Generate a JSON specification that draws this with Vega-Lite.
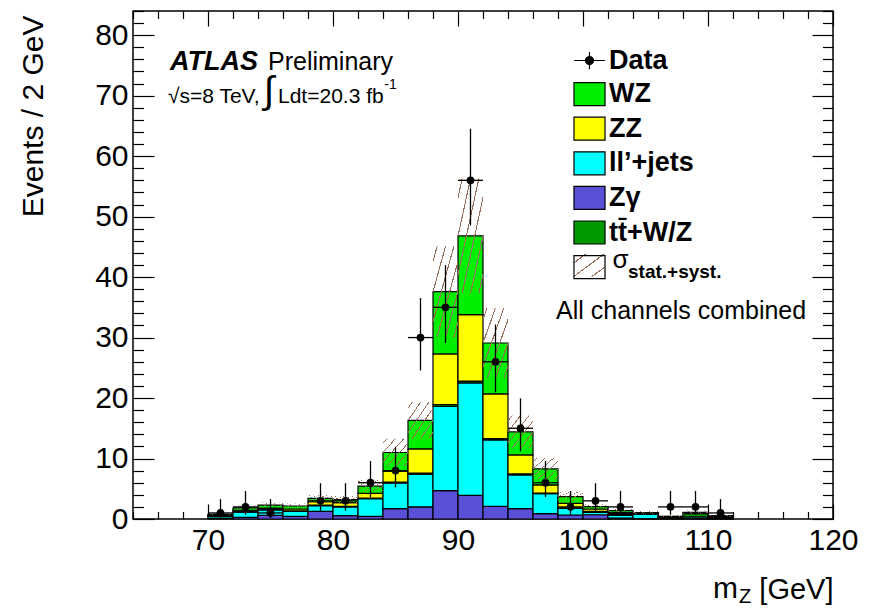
{
  "$schema": "https://vega.github.io/schema/vega-lite/v6.json",
  "width": 700,
  "height": 508,
  "autosize": {"type": "none"},
  "padding": {"left": 133, "top": 11, "right": 40, "bottom": 89},
  "background": "white",
  "config": {"view": {"stroke": "black", "strokeWidth": 1.5}, "font": "Liberation Sans"},
  "datasets": {
    "stack": [
      {"lo":70,"hi":72,"p":"Zγ","n":0.15},{"lo":70,"hi":72,"p":"ll’+jets","n":0.30},{"lo":70,"hi":72,"p":"tt̄+W/Z","n":0.10},{"lo":70,"hi":72,"p":"ZZ","n":0.10},{"lo":70,"hi":72,"p":"WZ","n":0.15},
      {"lo":72,"hi":74,"p":"Zγ","n":0.27},{"lo":72,"hi":74,"p":"ll’+jets","n":0.88},{"lo":72,"hi":74,"p":"tt̄+W/Z","n":0.15},{"lo":72,"hi":74,"p":"ZZ","n":0.15},{"lo":72,"hi":74,"p":"WZ","n":0.40},
      {"lo":74,"hi":76,"p":"Zγ","n":0.60},{"lo":74,"hi":76,"p":"ll’+jets","n":0.90},{"lo":74,"hi":76,"p":"tt̄+W/Z","n":0.10},{"lo":74,"hi":76,"p":"ZZ","n":0.20},{"lo":74,"hi":76,"p":"WZ","n":0.50},
      {"lo":76,"hi":78,"p":"Zγ","n":0.43},{"lo":76,"hi":78,"p":"ll’+jets","n":0.83},{"lo":76,"hi":78,"p":"tt̄+W/Z","n":0.10},{"lo":76,"hi":78,"p":"ZZ","n":0.29},{"lo":76,"hi":78,"p":"WZ","n":0.50},
      {"lo":78,"hi":80,"p":"Zγ","n":1.25},{"lo":78,"hi":80,"p":"ll’+jets","n":0.95},{"lo":78,"hi":80,"p":"tt̄+W/Z","n":0.10},{"lo":78,"hi":80,"p":"ZZ","n":0.55},{"lo":78,"hi":80,"p":"WZ","n":0.55},
      {"lo":80,"hi":82,"p":"Zγ","n":0.55},{"lo":80,"hi":82,"p":"ll’+jets","n":1.45},{"lo":80,"hi":82,"p":"tt̄+W/Z","n":0.10},{"lo":80,"hi":82,"p":"ZZ","n":0.60},{"lo":80,"hi":82,"p":"WZ","n":0.50},
      {"lo":82,"hi":84,"p":"Zγ","n":0.43},{"lo":82,"hi":84,"p":"ll’+jets","n":2.92},{"lo":82,"hi":84,"p":"tt̄+W/Z","n":0.10},{"lo":82,"hi":84,"p":"ZZ","n":0.80},{"lo":82,"hi":84,"p":"WZ","n":1.20},
      {"lo":84,"hi":86,"p":"Zγ","n":1.70},{"lo":84,"hi":86,"p":"ll’+jets","n":4.25},{"lo":84,"hi":86,"p":"tt̄+W/Z","n":0.15},{"lo":84,"hi":86,"p":"ZZ","n":1.80},{"lo":84,"hi":86,"p":"WZ","n":3.10},
      {"lo":86,"hi":88,"p":"Zγ","n":2.00},{"lo":86,"hi":88,"p":"ll’+jets","n":5.40},{"lo":86,"hi":88,"p":"tt̄+W/Z","n":0.20},{"lo":86,"hi":88,"p":"ZZ","n":4.00},{"lo":86,"hi":88,"p":"WZ","n":4.70},
      {"lo":88,"hi":90,"p":"Zγ","n":4.70},{"lo":88,"hi":90,"p":"ll’+jets","n":13.9},{"lo":88,"hi":90,"p":"tt̄+W/Z","n":0.30},{"lo":88,"hi":90,"p":"ZZ","n":8.40},{"lo":88,"hi":90,"p":"WZ","n":10.3},
      {"lo":90,"hi":92,"p":"Zγ","n":3.90},{"lo":90,"hi":92,"p":"ll’+jets","n":18.6},{"lo":90,"hi":92,"p":"tt̄+W/Z","n":0.30},{"lo":90,"hi":92,"p":"ZZ","n":11.0},{"lo":90,"hi":92,"p":"WZ","n":13.0},
      {"lo":92,"hi":94,"p":"Zγ","n":2.10},{"lo":92,"hi":94,"p":"ll’+jets","n":11.0},{"lo":92,"hi":94,"p":"tt̄+W/Z","n":0.20},{"lo":92,"hi":94,"p":"ZZ","n":7.40},{"lo":92,"hi":94,"p":"WZ","n":8.40},
      {"lo":94,"hi":96,"p":"Zγ","n":1.70},{"lo":94,"hi":96,"p":"ll’+jets","n":5.60},{"lo":94,"hi":96,"p":"tt̄+W/Z","n":0.15},{"lo":94,"hi":96,"p":"ZZ","n":3.15},{"lo":94,"hi":96,"p":"WZ","n":3.80},
      {"lo":96,"hi":98,"p":"Zγ","n":0.90},{"lo":96,"hi":98,"p":"ll’+jets","n":3.30},{"lo":96,"hi":98,"p":"tt̄+W/Z","n":0.10},{"lo":96,"hi":98,"p":"ZZ","n":1.35},{"lo":96,"hi":98,"p":"WZ","n":2.65},
      {"lo":98,"hi":100,"p":"Zγ","n":0.66},{"lo":98,"hi":100,"p":"ll’+jets","n":1.09},{"lo":98,"hi":100,"p":"tt̄+W/Z","n":0.10},{"lo":98,"hi":100,"p":"ZZ","n":0.75},{"lo":98,"hi":100,"p":"WZ","n":1.10},
      {"lo":100,"hi":102,"p":"Zγ","n":0.70},{"lo":100,"hi":102,"p":"ll’+jets","n":0.40},{"lo":100,"hi":102,"p":"tt̄+W/Z","n":0.15},{"lo":100,"hi":102,"p":"ZZ","n":0.40},{"lo":100,"hi":102,"p":"WZ","n":0.40},
      {"lo":102,"hi":104,"p":"Zγ","n":0.15},{"lo":102,"hi":104,"p":"ll’+jets","n":0.50},{"lo":102,"hi":104,"p":"tt̄+W/Z","n":0.20},{"lo":102,"hi":104,"p":"ZZ","n":0.20},{"lo":102,"hi":104,"p":"WZ","n":0.35},
      {"lo":104,"hi":106,"p":"Zγ","n":0.05},{"lo":104,"hi":106,"p":"ll’+jets","n":0.75},{"lo":104,"hi":106,"p":"tt̄+W/Z","n":0.10},{"lo":104,"hi":106,"p":"ZZ","n":0.05},{"lo":104,"hi":106,"p":"WZ","n":0.10},
      {"lo":106,"hi":108,"p":"Zγ","n":0.05},{"lo":106,"hi":108,"p":"ll’+jets","n":0.10},{"lo":106,"hi":108,"p":"tt̄+W/Z","n":0.15},{"lo":106,"hi":108,"p":"ZZ","n":0.10},{"lo":106,"hi":108,"p":"WZ","n":0.05},
      {"lo":108,"hi":110,"p":"Zγ","n":0.05},{"lo":108,"hi":110,"p":"ll’+jets","n":0.30},{"lo":108,"hi":110,"p":"tt̄+W/Z","n":0.55},{"lo":108,"hi":110,"p":"ZZ","n":0.10},{"lo":108,"hi":110,"p":"WZ","n":0.10},
      {"lo":110,"hi":112,"p":"Zγ","n":0.02},{"lo":110,"hi":112,"p":"ll’+jets","n":0.20},{"lo":110,"hi":112,"p":"tt̄+W/Z","n":0.20},{"lo":110,"hi":112,"p":"ZZ","n":0.08},{"lo":110,"hi":112,"p":"WZ","n":0.05}
    ],
    "band": [
      {"lo":70,"hi":72,"elo":0.6,"ehi":1.0},{"lo":72,"hi":74,"elo":1.5,"ehi":2.2},{"lo":74,"hi":76,"elo":1.9,"ehi":2.7},
      {"lo":76,"hi":78,"elo":1.75,"ehi":2.55},{"lo":78,"hi":80,"elo":2.8,"ehi":4.0},{"lo":80,"hi":82,"elo":2.6,"ehi":3.8},
      {"lo":82,"hi":84,"elo":4.45,"ehi":6.45},{"lo":84,"hi":86,"elo":8.7,"ehi":13.3},{"lo":86,"hi":88,"elo":13.3,"ehi":19.3},
      {"lo":88,"hi":90,"elo":30.1,"ehi":45.1},{"lo":90,"hi":92,"elo":37.3,"ehi":56.3},{"lo":92,"hi":94,"elo":23.3,"ehi":34.9},
      {"lo":94,"hi":96,"elo":11.7,"ehi":17.1},{"lo":96,"hi":98,"elo":6.5,"ehi":10.1},{"lo":98,"hi":100,"elo":2.9,"ehi":4.5},
      {"lo":100,"hi":102,"elo":1.65,"ehi":2.45},{"lo":102,"hi":104,"elo":1.1,"ehi":1.7},{"lo":104,"hi":106,"elo":0.75,"ehi":1.35},
      {"lo":106,"hi":108,"elo":0.3,"ehi":0.6},{"lo":108,"hi":110,"elo":0.8,"ehi":1.4},{"lo":110,"hi":112,"elo":0.4,"ehi":0.7}
    ],
    "obs": [
      {"c":71,"bl":70,"bh":72,"n":1,"lo":0.17,"hi":3.30},
      {"c":73,"bl":72,"bh":74,"n":2,"lo":0.71,"hi":4.63},
      {"c":75,"bl":74,"bh":76,"n":1,"lo":0.17,"hi":3.30},
      {"c":79,"bl":78,"bh":80,"n":3,"lo":1.37,"hi":5.91},
      {"c":81,"bl":80,"bh":82,"n":3,"lo":1.37,"hi":5.91},
      {"c":83,"bl":82,"bh":84,"n":6,"lo":3.62,"hi":9.58},
      {"c":85,"bl":84,"bh":86,"n":8,"lo":5.24,"hi":11.94},
      {"c":87,"bl":86,"bh":88,"n":30,"lo":24.56,"hi":36.53},
      {"c":89,"bl":88,"bh":90,"n":35,"lo":29.12,"hi":41.97},
      {"c":91,"bl":90,"bh":92,"n":56,"lo":48.54,"hi":64.53},
      {"c":93,"bl":92,"bh":94,"n":26,"lo":20.94,"hi":32.16},
      {"c":95,"bl":94,"bh":96,"n":15,"lo":11.18,"hi":19.95},
      {"c":97,"bl":96,"bh":98,"n":6,"lo":3.62,"hi":9.58},
      {"c":99,"bl":98,"bh":100,"n":2,"lo":0.71,"hi":4.63},
      {"c":101,"bl":100,"bh":102,"n":3,"lo":1.37,"hi":5.91},
      {"c":103,"bl":102,"bh":104,"n":2,"lo":0.71,"hi":4.63},
      {"c":107,"bl":106,"bh":108,"n":2,"lo":0.71,"hi":4.63},
      {"c":109,"bl":108,"bh":110,"n":2,"lo":0.71,"hi":4.63},
      {"c":111,"bl":110,"bh":112,"n":1,"lo":0.17,"hi":3.30}
    ]
  },
  "resolve": {"axis": {"x": "independent", "y": "independent"}},
  "layer": [
    {
      "data": {"name": "stack"},
      "transform": [{"stack": "n", "groupby": ["lo"], "as": ["s0", "s1"]}],
      "mark": {"type": "rect", "stroke": "black", "strokeWidth": 1.2},
      "encoding": {
        "x": {"field": "lo", "type": "quantitative", "scale": {"domain": [64, 120], "nice": false, "zero": false},
          "axis": {"orient": "bottom", "values": [64,66,68,70,72,74,76,78,80,82,84,86,88,90,92,94,96,98,100,102,104,106,108,110,112,114,116,118,120],
            "labelExpr": "datum.value % 10 === 0 ? datum.label : ''", "labelFont": "Liberation Sans", "labelFontSize": 30, "labelColor": "black",
            "labelPadding": 21, "labelFlush": false, "labelOverlap": false,
            "tickSize": {"condition": {"test": "datum.value % 10 === 0", "value": -15}, "value": -7.5},
            "tickColor": "black", "tickWidth": 1.2,
            "domain": false, "grid": false,
            "title": "[GeV]", "titleFont": "Liberation Sans", "titleFontSize": 29, "titleFontWeight": "normal", "titleColor": "black",
            "titleX": 700, "titleY": 79, "titleAlign": "right", "titleBaseline": "alphabetic", "titleLimit": 400}},
        "x2": {"field": "hi"},
        "y": {"field": "s0", "type": "quantitative", "scale": {"domain": [0, 84], "nice": false, "zero": false},
          "axis": {"orient": "left", "values": [0,2,4,6,8,10,12,14,16,18,20,22,24,26,28,30,32,34,36,38,40,42,44,46,48,50,52,54,56,58,60,62,64,66,68,70,72,74,76,78,80,82,84],
            "labelExpr": "datum.value % 10 === 0 ? datum.label : ''", "labelFont": "Liberation Sans", "labelFontSize": 30, "labelColor": "black",
            "labelPadding": 26, "labelFlush": false, "labelOverlap": false,
            "tickSize": {"condition": {"test": "datum.value % 10 === 0", "value": -21}, "value": -10.5},
            "tickColor": "black", "tickWidth": 1.2,
            "domain": false, "grid": false,
            "title": "Events / 2 GeV", "titleFont": "Liberation Sans", "titleFontSize": 30, "titleFontWeight": "normal", "titleColor": "black",
            "titleX": -100, "titleY": 4, "titleAngle": 270, "titleAlign": "right", "titleBaseline": "middle", "titleLimit": 400}},
        "y2": {"field": "s1"},
        "color": {"field": "p", "type": "nominal",
          "scale": {"domain": ["Data", "WZ", "ZZ", "ll’+jets", "Zγ", "tt̄+W/Z", "σ"],
                    "range": ["black", "#00ee00", "#ffff00", "#00ffff", "#5a50d8", "#009900", "rgba(255,255,255,0)"]},
          "legend": {"orient": "none", "legendX": 443, "legendY": 36, "title": null, "padding": 0,
            "symbolSize": 529, "symbolType": "M-1.35,-1H1.35V1H-1.35Z", "symbolStrokeColor": "black", "symbolStrokeWidth": 1.2,
            "labelFont": "Liberation Sans", "labelFontSize": 27, "labelFontWeight": "bold", "labelColor": "black",
            "labelOffset": 6, "rowPadding": 5.6, "labelLimit": 300,
            "labelExpr": "datum.label === 'σ' ? '' : datum.label",
            "encode": {"symbols": {"update": {
              "shape": [{"test": "datum.value === 'Data'", "value": "M-1.35,0H1.35M0,-0.75V0.75M-0.35,0A0.35,0.35,0,1,1,0.35,0A0.35,0.35,0,1,1,-0.35,0Z"}, {"value": "M-1.35,-1H1.35V1H-1.35Z"}],
              "stroke": {"value": "black"},
              "strokeWidth": {"value": 1.2},
              "opacity": {"value": 1}
            }}}}
        }
      }
    },
    {
      "data": {"name": "band"},
      "mark": {"type": "rect", "strokeWidth": 0, "fill": {"gradient": "linear", "x1": 0, "y1": 0, "x2": 1, "y2": 1, "stops": [
        {"offset": 0, "color": "rgba(150,110,90,0)"},
        {"offset": 0.072, "color": "rgba(150,110,90,0)"},{"offset": 0.072, "color": "#966e5a"},{"offset": 0.094, "color": "#966e5a"},{"offset": 0.094, "color": "rgba(150,110,90,0)"},
        {"offset": 0.239, "color": "rgba(150,110,90,0)"},{"offset": 0.239, "color": "#966e5a"},{"offset": 0.261, "color": "#966e5a"},{"offset": 0.261, "color": "rgba(150,110,90,0)"},
        {"offset": 0.406, "color": "rgba(150,110,90,0)"},{"offset": 0.406, "color": "#966e5a"},{"offset": 0.428, "color": "#966e5a"},{"offset": 0.428, "color": "rgba(150,110,90,0)"},
        {"offset": 0.572, "color": "rgba(150,110,90,0)"},{"offset": 0.572, "color": "#966e5a"},{"offset": 0.594, "color": "#966e5a"},{"offset": 0.594, "color": "rgba(150,110,90,0)"},
        {"offset": 0.739, "color": "rgba(150,110,90,0)"},{"offset": 0.739, "color": "#966e5a"},{"offset": 0.761, "color": "#966e5a"},{"offset": 0.761, "color": "rgba(150,110,90,0)"},
        {"offset": 0.906, "color": "rgba(150,110,90,0)"},{"offset": 0.906, "color": "#966e5a"},{"offset": 0.928, "color": "#966e5a"},{"offset": 0.928, "color": "rgba(150,110,90,0)"},
        {"offset": 1, "color": "rgba(150,110,90,0)"}]}},
      "encoding": {
        "x": {"field": "lo", "type": "quantitative", "scale": {"domain": [64, 120], "nice": false, "zero": false},
          "axis": {"orient": "top", "values": [64,66,68,70,72,74,76,78,80,82,84,86,88,90,92,94,96,98,100,102,104,106,108,110,112,114,116,118,120],
            "labels": false,
            "tickSize": {"condition": {"test": "datum.value % 10 === 0", "value": -15}, "value": -7.5},
            "tickColor": "black", "tickWidth": 1.2, "domain": false, "grid": false, "title": null}},
        "x2": {"field": "hi"},
        "y": {"field": "elo", "type": "quantitative", "scale": {"domain": [0, 84], "nice": false, "zero": false},
          "axis": {"orient": "right", "values": [0,2,4,6,8,10,12,14,16,18,20,22,24,26,28,30,32,34,36,38,40,42,44,46,48,50,52,54,56,58,60,62,64,66,68,70,72,74,76,78,80,82,84],
            "labels": false,
            "tickSize": {"condition": {"test": "datum.value % 10 === 0", "value": -21}, "value": -10.5},
            "tickColor": "black", "tickWidth": 1.2, "domain": false, "grid": false, "title": null}},
        "y2": {"field": "ehi"}
      }
    },
    {
      "data": {"values": [{}]},
      "mark": {"type": "rect", "strokeWidth": 0, "fill": {"gradient": "linear", "x1": 0, "y1": 0, "x2": 1, "y2": 1, "stops": [
        {"offset": 0, "color": "rgba(150,110,90,0)"},
        {"offset": 0.19, "color": "rgba(150,110,90,0)"},{"offset": 0.19, "color": "#966e5a"},{"offset": 0.22, "color": "#966e5a"},{"offset": 0.22, "color": "rgba(150,110,90,0)"},
        {"offset": 0.485, "color": "rgba(150,110,90,0)"},{"offset": 0.485, "color": "#966e5a"},{"offset": 0.515, "color": "#966e5a"},{"offset": 0.515, "color": "rgba(150,110,90,0)"},
        {"offset": 0.78, "color": "rgba(150,110,90,0)"},{"offset": 0.78, "color": "#966e5a"},{"offset": 0.81, "color": "#966e5a"},{"offset": 0.81, "color": "rgba(150,110,90,0)"},
        {"offset": 1, "color": "rgba(150,110,90,0)"}]}},
      "encoding": {
        "x": {"datum": 99.26, "type": "quantitative", "axis": null},
        "x2": {"datum": 101.74},
        "y": {"datum": 43.9, "type": "quantitative", "axis": null},
        "y2": {"datum": 40.1}
      }
    },
    {
      "data": {"name": "obs"},
      "mark": {"type": "rule", "color": "black", "strokeWidth": 1.3},
      "encoding": {
        "x": {"field": "c", "type": "quantitative", "scale": {"domain": [64, 120], "nice": false, "zero": false}, "axis": null},
        "y": {"field": "lo", "type": "quantitative", "scale": {"domain": [0, 84], "nice": false, "zero": false}, "axis": null},
        "y2": {"field": "hi"}
      }
    },
    {
      "data": {"name": "obs"},
      "mark": {"type": "rule", "color": "black", "strokeWidth": 1.3},
      "encoding": {
        "x": {"field": "bl", "type": "quantitative", "scale": {"domain": [64, 120], "nice": false, "zero": false}, "axis": null},
        "x2": {"field": "bh"},
        "y": {"field": "n", "type": "quantitative", "scale": {"domain": [0, 84], "nice": false, "zero": false}, "axis": null}
      }
    },
    {
      "data": {"name": "obs"},
      "mark": {"type": "circle", "color": "black", "size": 60, "opacity": 1},
      "encoding": {
        "x": {"field": "c", "type": "quantitative", "scale": {"domain": [64, 120], "nice": false, "zero": false}, "axis": null},
        "y": {"field": "n", "type": "quantitative", "scale": {"domain": [0, 84], "nice": false, "zero": false}, "axis": null}
      }
    },
    {
      "data": {"values": [{}]},
      "mark": {"type": "text", "text": "ATLAS", "font": "Liberation Sans", "fontSize": 27, "fontWeight": "bold", "fontStyle": "italic", "align": "left", "baseline": "middle", "color": "black"},
      "encoding": {"x": {"datum": 66.96, "type": "quantitative", "axis": null}, "y": {"datum": 75.6, "type": "quantitative", "axis": null}}
    },
    {
      "data": {"values": [{}]},
      "mark": {"type": "text", "text": "Preliminary", "font": "Liberation Sans", "fontSize": 25, "align": "left", "baseline": "middle", "color": "black"},
      "encoding": {"x": {"datum": 74.8, "type": "quantitative", "axis": null}, "y": {"datum": 75.6, "type": "quantitative", "axis": null}}
    },
    {
      "data": {"values": [{}]},
      "mark": {"type": "text", "text": "√s=8 TeV,", "font": "Liberation Sans", "fontSize": 21, "align": "left", "baseline": "middle", "color": "black"},
      "encoding": {"x": {"datum": 66.8, "type": "quantitative", "axis": null}, "y": {"datum": 69.8, "type": "quantitative", "axis": null}}
    },
    {
      "data": {"values": [{}]},
      "mark": {"type": "text", "text": "∫", "font": "Liberation Sans", "fontSize": 38, "align": "left", "baseline": "middle", "color": "black"},
      "encoding": {"x": {"datum": 74.45, "type": "quantitative", "axis": null}, "y": {"datum": 70.6, "type": "quantitative", "axis": null}}
    },
    {
      "data": {"values": [{}]},
      "mark": {"type": "text", "text": "Ldt=20.3 fb", "font": "Liberation Sans", "fontSize": 21, "align": "left", "baseline": "middle", "color": "black"},
      "encoding": {"x": {"datum": 75.6, "type": "quantitative", "axis": null}, "y": {"datum": 69.8, "type": "quantitative", "axis": null}}
    },
    {
      "data": {"values": [{}]},
      "mark": {"type": "text", "text": "-1", "font": "Liberation Sans", "fontSize": 14, "align": "left", "baseline": "middle", "color": "black"},
      "encoding": {"x": {"datum": 84.1, "type": "quantitative", "axis": null}, "y": {"datum": 71.8, "type": "quantitative", "axis": null}}
    },
    {
      "data": {"values": [{}]},
      "mark": {"type": "text", "text": "All channels combined", "font": "Liberation Sans", "fontSize": 25, "align": "left", "baseline": "middle", "color": "black"},
      "encoding": {"x": {"datum": 97.84, "type": "quantitative", "axis": null}, "y": {"datum": 34.4, "type": "quantitative", "axis": null}}
    },
    {
      "data": {"values": [{}]},
      "mark": {"type": "text", "text": "σ", "font": "Liberation Sans", "fontSize": 26, "align": "left", "baseline": "middle", "color": "black"},
      "encoding": {"x": {"datum": 102.36, "type": "quantitative", "axis": null}, "y": {"datum": 42.8, "type": "quantitative", "axis": null}}
    },
    {
      "data": {"values": [{}]},
      "mark": {"type": "text", "text": "stat.+syst.", "font": "Liberation Sans", "fontSize": 19, "fontWeight": "bold", "align": "left", "baseline": "middle", "color": "black"},
      "encoding": {"x": {"datum": 103.6, "type": "quantitative", "axis": null}, "y": {"datum": 40.9, "type": "quantitative", "axis": null}}
    },
    {
      "data": {"values": [{}]},
      "mark": {"type": "text", "text": "m", "font": "Liberation Sans", "fontSize": 30, "align": "right", "baseline": "alphabetic", "color": "black"},
      "encoding": {"x": {"datum": 112.4, "type": "quantitative", "axis": null}, "y": {"datum": -13.06, "type": "quantitative", "axis": null}}
    },
    {
      "data": {"values": [{}]},
      "mark": {"type": "text", "text": "Z", "font": "Liberation Sans", "fontSize": 20, "align": "left", "baseline": "alphabetic", "color": "black"},
      "encoding": {"x": {"datum": 112.48, "type": "quantitative", "axis": null}, "y": {"datum": -13.89, "type": "quantitative", "axis": null}}
    }
  ]
}
